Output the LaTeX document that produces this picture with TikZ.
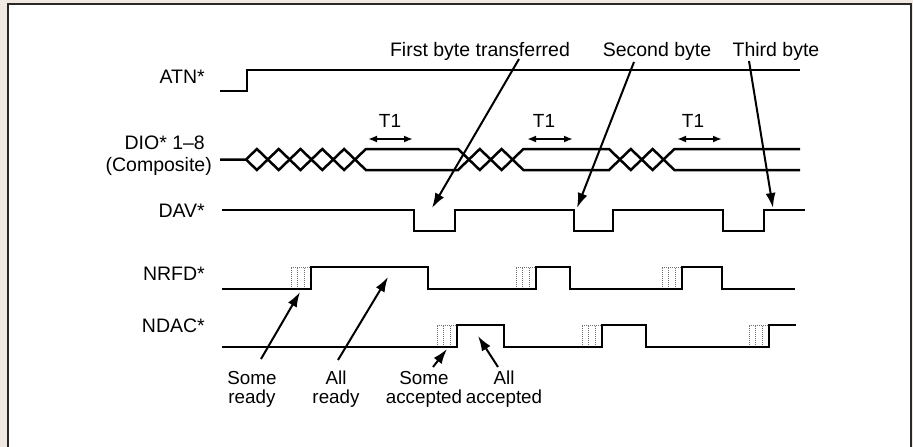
\documentclass[tikz,border=0pt]{standalone}
\usepackage{fontspec}
\setmainfont{Liberation Sans}
\usetikzlibrary{arrows.meta}
\definecolor{bgbeige}{RGB}{240,232,226}
\definecolor{framec}{RGB}{40,40,40}
\begin{document}
\begin{tikzpicture}[x=1pt,y=-1pt,
  sig/.style={line width=2.5pt, line join=miter},
  ptr/.style={line width=2pt, -{Latex[length=15pt,width=10pt]}},
  tone/.style={line width=1.8pt, {Latex[length=9pt,width=7pt]}-{Latex[length=9pt,width=7pt]}},
  lbl/.style={font=\fontsize{19.5}{19.5}\selectfont, inner sep=0pt},
  blbl/.style={font=\fontsize{18.8}{19}\selectfont, inner sep=0pt},
  tlbl/.style={font=\fontsize{19}{19}\selectfont, inner sep=0pt},
  dots/.style={black!55, line width=0.9pt, dash pattern=on 1pt off 1pt}]
\path[use as bounding box] (0,0) rectangle (913,447);
\fill[bgbeige] (0,0) rectangle (913,447);
\draw[fill=white, draw=framec, line width=2pt] (8,4) rectangle (911,470);

% left labels
\node[lbl, anchor=base east] (latn) at (205,83) {ATN*};
\node[lbl, anchor=base east] (ldio) at (205,149) {DIO* 1–8};
\node[lbl, anchor=base east] (lcomp) at (212,171) {(Composite)};
\node[lbl, anchor=base east] (ldav) at (205,217) {DAV*};
\node[lbl, anchor=base east] (lnrfd) at (205,280) {NRFD*};
\node[lbl, anchor=base east] (lndac) at (205,332) {NDAC*};

% ATN
\draw[sig] (220,91) -- (247,91) -- (247,70) -- (800,70);

% DIO composite
\draw[sig] (220,159.5) -- (246,159.5) -- (256.9,149) -- (267.8,159.5) -- (278.7,149) -- (289.6,159.5) -- (300.5,149) -- (311.4,159.5) -- (322.3,149) -- (333.2,159.5) -- (344.1,149) -- (355,159.5) -- (365.9,149) -- (458,149) -- (468.9,159.5) -- (479.8,149) -- (490.7,159.5) -- (501.6,149) -- (512.5,159.5) -- (523.4,149) -- (609,149) -- (619.9,159.5) -- (630.8,149) -- (641.7,159.5) -- (652.6,149) -- (663.5,159.5) -- (674.4,149) -- (800,149);
\draw[sig] (246,159.5) -- (256.9,170) -- (267.8,159.5) -- (278.7,170) -- (289.6,159.5) -- (300.5,170) -- (311.4,159.5) -- (322.3,170) -- (333.2,159.5) -- (344.1,170) -- (355,159.5) -- (365.9,170) -- (458,170) -- (468.9,159.5) -- (479.8,170) -- (490.7,159.5) -- (501.6,170) -- (512.5,159.5) -- (523.4,170) -- (609,170) -- (619.9,159.5) -- (630.8,170) -- (641.7,159.5) -- (652.6,170) -- (663.5,159.5) -- (674.4,170) -- (800,170);

% T1 markers
\coordinate (t1a) at (368,139); \coordinate (t1b) at (413,139);
\coordinate (t2a) at (527,139); \coordinate (t2b) at (573,139);
\coordinate (t3a) at (677,139); \coordinate (t3b) at (722,139);
\draw[tone] (t1a) -- (t1b);
\draw[tone] (t2a) -- (t2b);
\draw[tone] (t3a) -- (t3b);
\node[tlbl, anchor=base] (lt1) at (390,127) {T1};
\node[tlbl, anchor=base] (lt2) at (544,127) {T1};
\node[tlbl, anchor=base] (lt3) at (693,127) {T1};

% DAV
\draw[sig] (222,210) -- (414,210) -- (414,231) -- (455,231) -- (455,210) -- (574,210) -- (574,231) -- (613,231) -- (613,210) -- (723,210) -- (723,231) -- (764,231) -- (764,210) -- (805,210);

% NRFD dotted settle boxes
\foreach \x in {311,536,682}{
  \draw[dots] (\x-20,289) -- (\x-20,267) -- (\x,267);
  \draw[dots] (\x-13.5,289) -- (\x-13.5,267);
  \draw[dots] (\x-7,289) -- (\x-7,267);
}
% NDAC dotted settle boxes
\foreach \x in {457,602,769}{
  \draw[dots] (\x-20,347) -- (\x-20,325) -- (\x,325);
  \draw[dots] (\x-13.5,347) -- (\x-13.5,325);
  \draw[dots] (\x-7,347) -- (\x-7,325);
}

% NRFD
\draw[sig] (222,289) -- (311,289) -- (311,267) -- (428,267) -- (428,289) -- (536,289) -- (536,267) -- (570,267) -- (570,289) -- (682,289) -- (682,267) -- (722,267) -- (722,289) -- (795,289);

% NDAC
\draw[sig] (222,347) -- (457,347) -- (457,325) -- (504,325) -- (504,347) -- (602,347) -- (602,325) -- (646,325) -- (646,347) -- (769,347) -- (769,325) -- (796,325);

% top labels and pointers
\node[lbl, anchor=base] (first) at (480,56.7) {First byte transferred};
\node[lbl, anchor=base] (second) at (657,56.7) {Second byte};
\node[lbl, anchor=base] (third) at (776,56.7) {Third byte};
\coordinate (firstS) at (519,59); \coordinate (firstT) at (432,208);
\coordinate (secondS) at (634,62); \coordinate (secondT) at (577,208);
\coordinate (thirdS) at (749,61); \coordinate (thirdT) at (773,208);
\draw[ptr] (firstS) -- (firstT);
\draw[ptr] (secondS) -- (secondT);
\draw[ptr] (thirdS) -- (thirdT);

% bottom labels and pointers
\node[blbl, align=center] (someready) at (252,389) {Some\\ready};
\node[blbl, align=center] (allready) at (336,389) {All\\ready};
\node[blbl, align=center] (someacc) at (424,389) {Some\\accepted};
\node[blbl, align=center] (allacc) at (504,389) {All\\accepted};
\coordinate (srS) at (261,359); \coordinate (srT) at (300,292);
\coordinate (arS) at (338,360); \coordinate (arT) at (388,277);
\coordinate (saS) at (433,367); \coordinate (saT) at (447,349);
\coordinate (aaS) at (498,367); \coordinate (aaT) at (478,336);
\draw[ptr] (srS) -- (srT);
\draw[ptr] (arS) -- (arT);
\draw[ptr] (saS) -- (saT);
\draw[ptr] (aaS) -- (aaT);
\end{tikzpicture}
\end{document}
